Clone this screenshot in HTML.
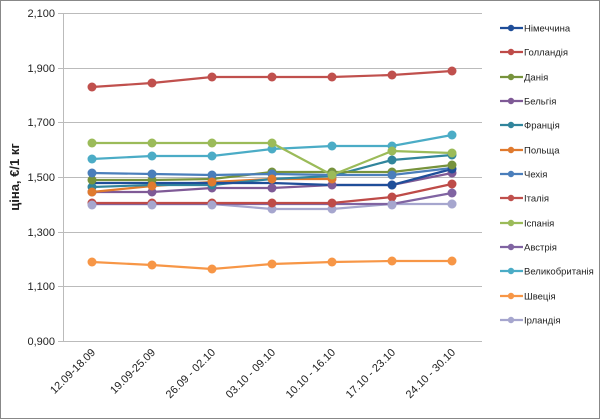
<!DOCTYPE html><html><head><style>body{margin:0;background:#fff}svg{display:block;font-family:"Liberation Sans","DejaVu Sans",sans-serif}</style></head><body>
<svg width="600" height="419" viewBox="0 0 600 419">
<rect x="0.5" y="0.5" width="599" height="418" fill="#fff" stroke="#888"/>
<g stroke="#bbb" stroke-width="1">
<line x1="58" y1="13.5" x2="482" y2="13.5"/><line x1="58" y1="68.5" x2="482" y2="68.5"/><line x1="58" y1="122.5" x2="482" y2="122.5"/><line x1="58" y1="177.5" x2="482" y2="177.5"/><line x1="58" y1="232.5" x2="482" y2="232.5"/><line x1="58" y1="286.5" x2="482" y2="286.5"/><line x1="58" y1="341.5" x2="482" y2="341.5"/><line x1="63.5" y1="13" x2="63.5" y2="341"/>
</g>
<g font-size="11" fill="#222" text-anchor="end">
<text x="55" y="17">2,100</text><text x="55" y="72">1,900</text><text x="55" y="126">1,700</text><text x="55" y="181">1,500</text><text x="55" y="236">1,300</text><text x="55" y="290">1,100</text><text x="55" y="345">0,900</text>
</g>
<g font-size="11" fill="#222" text-anchor="end">
<text transform="translate(96,353) rotate(-45)">12.09-18.09</text>
<text transform="translate(156,353) rotate(-45)">19.09-25.09</text>
<text transform="translate(216,353) rotate(-45)">26.09 - 02.10</text>
<text transform="translate(276,353) rotate(-45)">03.10 - 09.10</text>
<text transform="translate(336,353) rotate(-45)">10.10 - 16.10</text>
<text transform="translate(396,353) rotate(-45)">17.10 - 23.10</text>
<text transform="translate(456,353) rotate(-45)">24.10 - 30.10</text>
</g>
<text transform="translate(19,177) rotate(-90)" font-size="13" font-weight="bold" text-anchor="middle" fill="#222">ціна, €/1 кг</text>
<g fill="none" stroke-width="2.2">
<polyline stroke="#a6a6ce" points="92,204 152,204 212,204 272,209 332,209 392,204 452,204"/>
<polyline stroke="#f79646" points="92,262 152,265 212,269 272,264 332,262 392,261 452,261"/>
<polyline stroke="#8064a2" points="92,204 152,204 212,204 272,204 332,204 392,204 452,193"/>
<polyline stroke="#be4b48" points="92,203 152,203 212,203 272,203 332,203 392,197 452,184"/>
<polyline stroke="#7f5a96" points="92,192 152,192 212,188 272,188 332,185 392,185 452,173"/>
<polyline stroke="#e07a2e" points="92,192 152,186 212,182 272,179 332,179"/>
<polyline stroke="#31859c" points="92,187 152,185 212,185 272,179 332,176 392,160 452,155"/>
<polyline stroke="#1f4e99" points="92,183 152,183 212,183 272,183 332,185 392,185 452,169"/>
<polyline stroke="#77933c" points="92,180 152,180 212,179 272,172 332,172 392,172 452,165"/>
<polyline stroke="#4a7ebb" points="92,173 152,174 212,175 272,174 332,175 392,175 452,168"/>
<polyline stroke="#4bacc6" points="92,159 152,156 212,156 272,149 332,146 392,146 452,135"/>
<polyline stroke="#9bbb59" points="92,143 152,143 212,143 272,143 332,175 392,151 452,153"/>
<polyline stroke="#c0504d" points="92,87 152,83 212,77 272,77 332,77 392,75 452,71"/>
</g>
<g stroke="none">
<g fill="#a6a6ce"><circle cx="92" cy="204" r="4.5"/><circle cx="152" cy="204" r="4.5"/><circle cx="212" cy="204" r="4.5"/><circle cx="272" cy="209" r="4.5"/><circle cx="332" cy="209" r="4.5"/><circle cx="392" cy="204" r="4.5"/><circle cx="452" cy="204" r="4.5"/></g>
<g fill="#f79646"><circle cx="92" cy="262" r="4.5"/><circle cx="152" cy="265" r="4.5"/><circle cx="212" cy="269" r="4.5"/><circle cx="272" cy="264" r="4.5"/><circle cx="332" cy="262" r="4.5"/><circle cx="392" cy="261" r="4.5"/><circle cx="452" cy="261" r="4.5"/></g>
<g fill="#8064a2"><circle cx="452" cy="193" r="4.5"/></g>
<g fill="#be4b48"><circle cx="92" cy="203" r="4.5"/><circle cx="152" cy="203" r="4.5"/><circle cx="212" cy="203" r="4.5"/><circle cx="272" cy="203" r="4.5"/><circle cx="332" cy="203" r="4.5"/><circle cx="392" cy="197" r="4.5"/><circle cx="452" cy="184" r="4.5"/></g>
<g fill="#a6a6ce"><circle cx="92" cy="205" r="4.5"/><circle cx="152" cy="205" r="4.5"/><circle cx="212" cy="205" r="4.5"/><circle cx="392" cy="205" r="4.5"/><circle cx="452" cy="204" r="4.5"/></g>
<g fill="#7f5a96"><circle cx="92" cy="192" r="4.5"/><circle cx="152" cy="192" r="4.5"/><circle cx="212" cy="188" r="4.5"/><circle cx="272" cy="188" r="4.5"/><circle cx="332" cy="185" r="4.5"/><circle cx="392" cy="185" r="4.5"/><circle cx="452" cy="173" r="4.5"/></g>
<g fill="#31859c"><circle cx="92" cy="187" r="4.5"/><circle cx="152" cy="185" r="4.5"/><circle cx="212" cy="185" r="4.5"/><circle cx="272" cy="179" r="4.5"/><circle cx="332" cy="176" r="4.5"/><circle cx="392" cy="160" r="4.5"/><circle cx="452" cy="155" r="4.5"/></g>
<g fill="#1f4e99"><circle cx="392" cy="185" r="4.5"/><circle cx="452" cy="169" r="4.5"/></g>
<g fill="#77933c"><circle cx="92" cy="180" r="4.5"/><circle cx="152" cy="180" r="4.5"/><circle cx="212" cy="179" r="4.5"/><circle cx="272" cy="172" r="4.5"/><circle cx="332" cy="172" r="4.5"/><circle cx="392" cy="172" r="4.5"/><circle cx="452" cy="165" r="4.5"/></g>
<g fill="#4a7ebb"><circle cx="92" cy="173" r="4.5"/><circle cx="152" cy="174" r="4.5"/><circle cx="212" cy="175" r="4.5"/><circle cx="272" cy="174" r="4.5"/><circle cx="332" cy="175" r="4.5"/><circle cx="392" cy="175" r="4.5"/></g>
<g fill="#e07a2e"><circle cx="92" cy="192" r="4.5"/><circle cx="152" cy="186" r="4.5"/><circle cx="212" cy="182" r="4.5"/><circle cx="272" cy="179" r="4.5"/><circle cx="332" cy="179" r="4.5"/></g>
<g fill="#4bacc6"><circle cx="92" cy="159" r="4.5"/><circle cx="152" cy="156" r="4.5"/><circle cx="212" cy="156" r="4.5"/><circle cx="272" cy="149" r="4.5"/><circle cx="332" cy="146" r="4.5"/><circle cx="392" cy="146" r="4.5"/><circle cx="452" cy="135" r="4.5"/></g>
<g fill="#9bbb59"><circle cx="92" cy="143" r="4.5"/><circle cx="152" cy="143" r="4.5"/><circle cx="212" cy="143" r="4.5"/><circle cx="272" cy="143" r="4.5"/><circle cx="332" cy="175" r="4.5"/><circle cx="392" cy="151" r="4.5"/><circle cx="452" cy="153" r="4.5"/></g>
<g fill="#c0504d"><circle cx="92" cy="87" r="4.5"/><circle cx="152" cy="83" r="4.5"/><circle cx="212" cy="77" r="4.5"/><circle cx="272" cy="77" r="4.5"/><circle cx="332" cy="77" r="4.5"/><circle cx="392" cy="75" r="4.5"/><circle cx="452" cy="71" r="4.5"/></g>
</g>
<g font-size="9.5" fill="#222" stroke-width="2.2">
<g transform="translate(0,28)"><line x1="500" x2="523" stroke="#1f4e99"/><circle cx="511" r="3.2" fill="#1f4e99"/><text x="524" y="3.5">Німеччина</text></g>
<g transform="translate(0,52)"><line x1="500" x2="523" stroke="#be4b48"/><circle cx="511" r="3.2" fill="#be4b48"/><text x="524" y="3.5">Голландія</text></g>
<g transform="translate(0,77)"><line x1="500" x2="523" stroke="#77933c"/><circle cx="511" r="3.2" fill="#77933c"/><text x="524" y="3.5">Данія</text></g>
<g transform="translate(0,101)"><line x1="500" x2="523" stroke="#7f5a96"/><circle cx="511" r="3.2" fill="#7f5a96"/><text x="524" y="3.5">Бельгія</text></g>
<g transform="translate(0,125)"><line x1="500" x2="523" stroke="#31859c"/><circle cx="511" r="3.2" fill="#31859c"/><text x="524" y="3.5">Франція</text></g>
<g transform="translate(0,150)"><line x1="500" x2="523" stroke="#e07a2e"/><circle cx="511" r="3.2" fill="#e07a2e"/><text x="524" y="3.5">Польща</text></g>
<g transform="translate(0,174)"><line x1="500" x2="523" stroke="#4a7ebb"/><circle cx="511" r="3.2" fill="#4a7ebb"/><text x="524" y="3.5">Чехія</text></g>
<g transform="translate(0,198)"><line x1="500" x2="523" stroke="#c0504d"/><circle cx="511" r="3.2" fill="#c0504d"/><text x="524" y="3.5">Італія</text></g>
<g transform="translate(0,223)"><line x1="500" x2="523" stroke="#9bbb59"/><circle cx="511" r="3.2" fill="#9bbb59"/><text x="524" y="3.5">Іспанія</text></g>
<g transform="translate(0,247)"><line x1="500" x2="523" stroke="#8064a2"/><circle cx="511" r="3.2" fill="#8064a2"/><text x="524" y="3.5">Австрія</text></g>
<g transform="translate(0,271)"><line x1="500" x2="523" stroke="#4bacc6"/><circle cx="511" r="3.2" fill="#4bacc6"/><text x="524" y="3.5">Великобританія</text></g>
<g transform="translate(0,296)"><line x1="500" x2="523" stroke="#f79646"/><circle cx="511" r="3.2" fill="#f79646"/><text x="524" y="3.5">Швеція</text></g>
<g transform="translate(0,320)"><line x1="500" x2="523" stroke="#a6a6ce"/><circle cx="511" r="3.2" fill="#a6a6ce"/><text x="524" y="3.5">Ірландія</text></g>
</g>
</svg></body></html>
